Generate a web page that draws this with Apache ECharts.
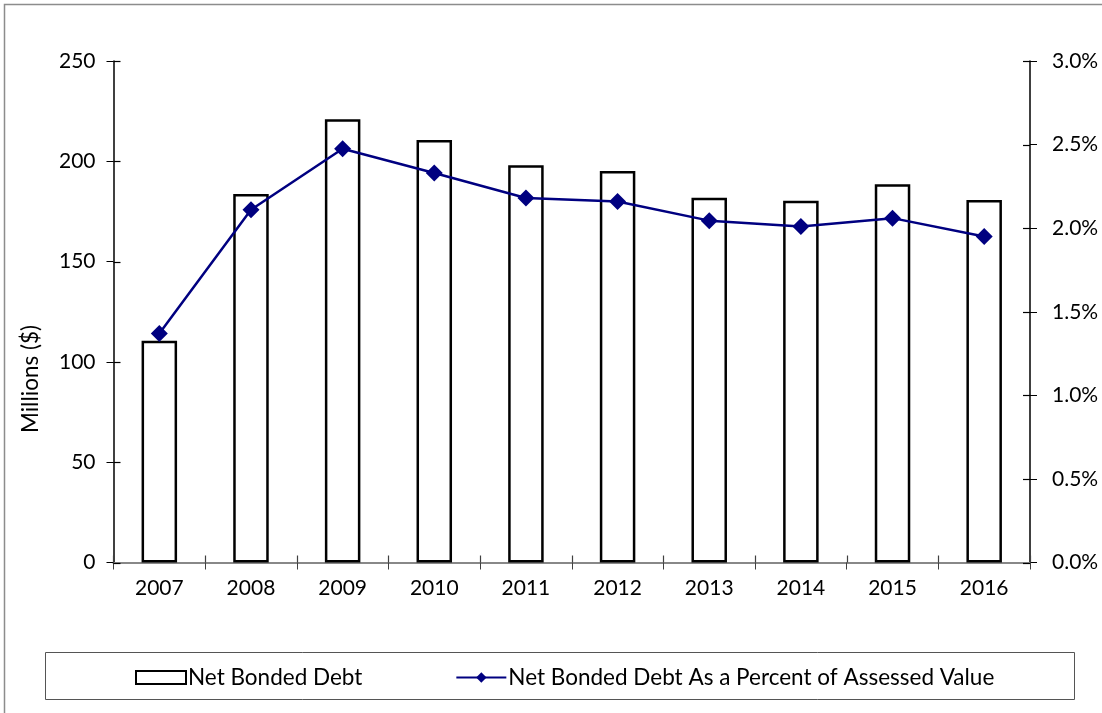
<!DOCTYPE html>
<html>
<head>
<meta charset="utf-8">
<script src="https://cdn.jsdelivr.net/npm/echarts@6/dist/echarts.min.js"></script>
<style>
  html, body { margin: 0; padding: 0; background: #fff; }
  #chart { width: 1102px; height: 713px; }
</style>
</head>
<body>
<div id="chart"></div>
<script>
// Fiscal years on the category axis
const years = ['2007', '2008', '2009', '2010', '2011', '2012', '2013', '2014', '2015', '2016'];
// Net bonded debt, millions of dollars
const netBondedDebt = [110.5, 183.7, 220.9, 210.6, 198.0, 195.2, 181.8, 180.3, 188.5, 180.7];
// Net bonded debt as a percent of assessed value
const pctOfAssessed = [1.37, 2.11, 2.475, 2.33, 2.18, 2.16, 2.045, 2.01, 2.06, 1.95];
// Tick values on the two value axes
const debtTicks = [0, 50, 100, 150, 200, 250];
const pctTicks = [0, 0.5, 1, 1.5, 2, 2.5, 3];

const FONT = 'Lato, "Open Sans", sans-serif';
const TXT = '#000';
const FS = 21;
const FS_BIG = 22.5;
const TICK = 7;

const chart = echarts.init(document.getElementById('chart'), null, { renderer: 'canvas' });

const noLabel = { show: false };
const noSplit = { show: false };
const tickOut = (c) => ({ show: true, length: TICK, lineStyle: { color: c, width: 1 } });

chart.setOption({
  animation: false,
  backgroundColor: '#fff',
  textStyle: { fontFamily: FONT, color: TXT },
  grid: { left: 113.5, right: 72, top: 61, bottom: 150.5, containLabel: false },
  legend: {
    left: 135, top: 666, padding: 0,
    itemGap: 93,
    itemWidth: 50, itemHeight: 13,
    textStyle: { fontFamily: FONT, fontSize: FS_BIG, color: TXT, padding: [0, 0, 0, -3] },
    data: [
      { name: 'Net Bonded Debt', icon: 'rect',
        itemStyle: { color: '#fff', borderColor: '#000', borderWidth: 2 } },
      { name: 'Net Bonded Debt As a Percent of Assessed Value' }
    ]
  },
  xAxis: [
    {
      type: 'category', data: years, position: 'bottom',
      axisLine: { show: true, lineStyle: { color: '#404040', width: 1.5 } },
      axisTick: tickOut('#404040'),
      axisLabel: { fontFamily: FONT, fontSize: FS, color: TXT, margin: 15 },
      splitLine: noSplit
    },
    {
      // top edge of the plot area
      type: 'category', data: years, position: 'top',
      axisLine: { show: true, lineStyle: { color: '#888', width: 2 } },
      axisTick: { show: false }, axisLabel: noLabel, splitLine: noSplit
    }
  ],
  yAxis: [
    {
      type: 'value', position: 'left', min: 0, max: 250, interval: 50,
      axisLine: { show: true, lineStyle: { color: '#000', width: 1.5 } },
      axisTick: tickOut('#000'),
      axisLabel: { fontFamily: FONT, fontSize: FS, color: TXT, margin: 18 },
      splitLine: noSplit
    },
    {
      type: 'value', position: 'right', min: 0, max: 3, interval: 0.5,
      axisLine: { show: true, lineStyle: { color: '#000', width: 1.5 } },
      axisTick: tickOut('#000'),
      axisLabel: { fontFamily: FONT, fontSize: FS, color: TXT, margin: 22,
        formatter: v => v.toFixed(1) + '%' },
      splitLine: noSplit
    }
  ],
  series: [
    {
      name: 'Net Bonded Debt', type: 'bar',
      xAxisIndex: 0, yAxisIndex: 0,
      data: netBondedDebt,
      barWidth: 35.5,
      itemStyle: { color: '#fff', borderColor: '#000', borderWidth: 2.5 },
      z: 2
    },
    {
      name: 'Net Bonded Debt As a Percent of Assessed Value', type: 'line',
      xAxisIndex: 0, yAxisIndex: 1,
      data: pctOfAssessed,
      symbol: 'diamond', symbolSize: 17,
      lineStyle: { color: '#000080', width: 2.5 },
      itemStyle: { color: '#000080' },
      z: 3
    }
  ],
  graphic: [
    {
      id: 'frame', type: 'rect', silent: true, z: -1,
      shape: { x: 4.5, y: 4.5, width: 1200, height: 1000 },
      style: { fill: 'none', stroke: '#8c8c8c', lineWidth: 1.5 }
    },
    {
      id: 'legendBox', type: 'rect', silent: true, z: -1,
      shape: { x: 45.5, y: 652.5, width: 1029, height: 47 },
      style: { fill: '#fff', stroke: '#555', lineWidth: 1 }
    },
    {
      id: 'yTitle', type: 'text', silent: true,
      x: 31, y: 379, rotation: Math.PI / 2,
      style: { text: 'Millions ($)', fontFamily: FONT, fontSize: FS_BIG, fill: TXT,
        textAlign: 'center', textVerticalAlign: 'middle' }
    }
  ]
});

// Inner half of each tick, so that every tick crosses its axis line.
// Positions come from the chart's own axis scales.
const innerTicks = [];
const addTick = (id, x1, y1, x2, y2, color) => innerTicks.push({
  id, type: 'line', silent: true, z: 50,
  shape: { x1, y1, x2, y2 },
  style: { stroke: color, lineWidth: 1.2 }
});
const c0 = chart.convertToPixel({ xAxisIndex: 0 }, 0);
const c1 = chart.convertToPixel({ xAxisIndex: 0 }, 1);
const band = c1 - c0;
const plotLeft = c0 - band / 2;
const plotRight = chart.convertToPixel({ xAxisIndex: 0 }, years.length - 1) + band / 2;
const plotBottom = chart.convertToPixel({ yAxisIndex: 0 }, 0);

debtTicks.forEach((v, i) => {
  const y = Math.round(chart.convertToPixel({ yAxisIndex: 0 }, v)) + 0.5;
  addTick('tl' + i, plotLeft, y, plotLeft + TICK, y, '#000');
});
pctTicks.forEach((v, i) => {
  const y = Math.round(chart.convertToPixel({ yAxisIndex: 1 }, v)) + 0.5;
  addTick('tr' + i, plotRight - TICK, y, plotRight, y, '#000');
});
for (let i = 0; i <= years.length; i++) {
  const x = Math.round(plotLeft + i * band) + 0.5;
  addTick('tb' + i, x, plotBottom - TICK, x, plotBottom, '#404040');
}
chart.setOption({ graphic: innerTicks });
</script>
</body>
</html>
